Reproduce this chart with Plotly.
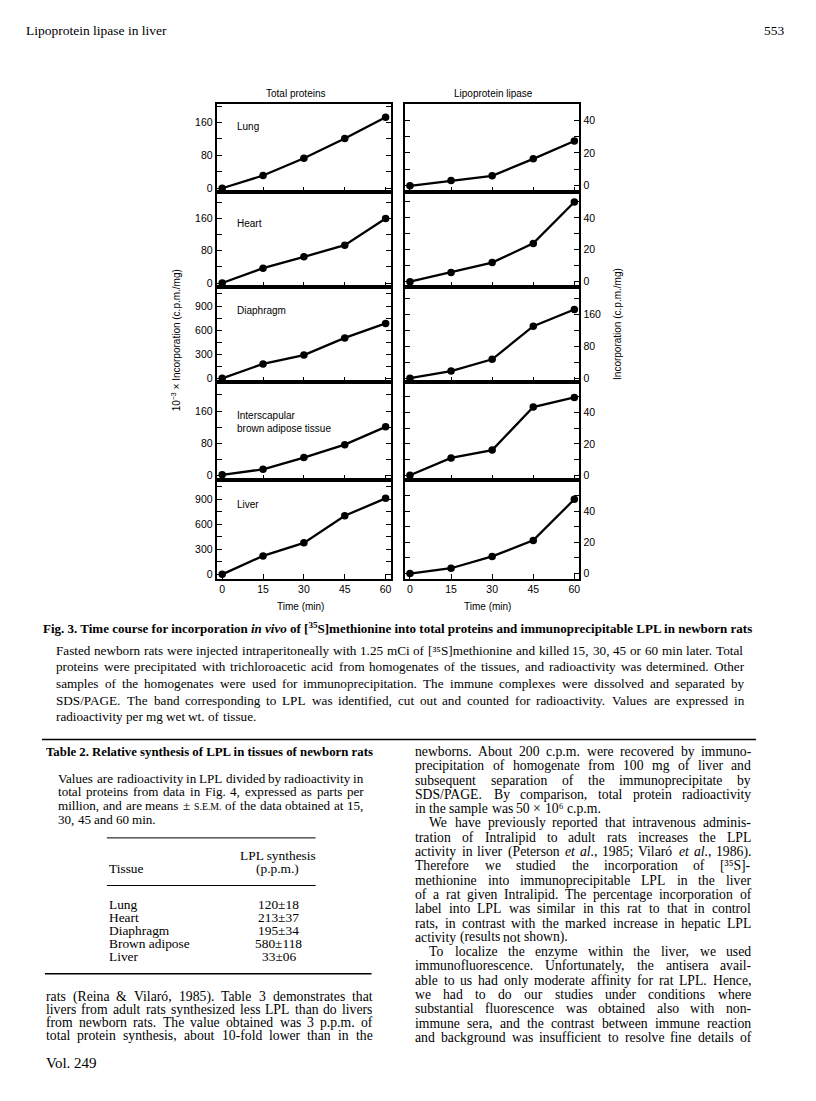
import re
import plotly.graph_objects as go

# ---------------- data ----------------
times = [0, 15, 30, 45, 60]
tissues = ["Lung", "Heart", "Diaphragm", "Interscapular<br>brown adipose tissue", "Liver"]
total_proteins = {
    "Lung": [0, 31, 73, 121, 173],
    "Heart": [0, 37, 65, 94, 160],
    "Diaphragm": [0, 180, 290, 503, 683],
    "IBAT": [2.5, 16, 45, 77, 121],
    "Liver": [0, 221, 378, 703, 912],
}
lpl = {
    "Lung": [0, 3.2, 6.1, 16.4, 27.3],
    "Heart": [0, 5.8, 12, 24, 50],
    "Diaphragm": [0, 18, 47.5, 131, 173],
    "IBAT": [0, 11, 16, 43.4, 49.5],
    "Liver": [0, 3.4, 11, 21.3, 47.7],
}
keys = ["Lung", "Heart", "Diaphragm", "IBAT", "Liver"]
x_ticks = [0, 15, 30, 45, 60]
tp_ticks_small = [0, 40, 80, 120, 160, 200]
tp_text_small = ["0", " ", "80", " ", "160", " "]
tp_ticks_big = [0, 150, 300, 450, 600, 750, 900, 1050]
tp_text_big = ["0", " ", "300", " ", "600", " ", "900", " "]
lpl_ticks_small = [0, 10, 20, 30, 40, 50]
lpl_text_small = ["0", " ", "20", " ", "40", " "]
lpl_ticks_big = [0, 40, 80, 120, 160, 200]
lpl_text_big = ["0", " ", "80", " ", "160", " "]

table_tissues = ["Lung", "Heart", "Diaphragm", "Brown adipose", "Liver"]
table_values = ["120±18", "213±37", "195±34", "580±118", "33±06"]

# ---------------- layout helpers ----------------
# the html body has an 8 px margin, so the figure is drawn 8 px in from the page corner
OFF = 8
W, H = 816 - 2 * OFF, 1101 - 2 * OFF
def px(x):
    return (x - OFF) / W
def py(y):
    return 1 - (y - OFF) / H

SANS = "Liberation Sans, Arial, sans-serif"
SERIF = "Liberation Serif, Times New Roman, serif"

panel_bounds = [(98.3, 187.7), (187.7, 283.3), (283.3, 378.3), (378.3, 477.3), (477.3, 576.7)]
tp_ranges = [[-10, 206], [-10.5, 225], [-40, 1133], [-10, 233], [-50, 1134]]
lpl_ranges = [[-4, 50], [-3.5, 56], [-8.5, 229], [-2.9, 59.6], [-3.2, 60.2]]
left_dom = [px(217), px(391)]
right_dom = [px(405), px(580)]

fig = go.Figure()
layout = {}
for i, key in enumerate(keys):
    top, bot = panel_bounds[i]
    ydom = [py(bot), py(top)]
    for side in (0, 1):
        n = 2 * i + side + 1
        xa = "x" if n == 1 else f"x{n}"
        ya = "y" if n == 1 else f"y{n}"
        yvals = total_proteins[key] if side == 0 else lpl[key]
        fig.add_trace(go.Scatter(
            x=times, y=yvals, xaxis=xa, yaxis=ya, mode="lines+markers",
            line=dict(color="black", width=2.3),
            marker=dict(color="black", size=7.5),
            cliponaxis=False, showlegend=False, hoverinfo="skip"))
        last = i == len(keys) - 1
        layout["xaxis" if n == 1 else f"xaxis{n}"] = dict(
            domain=left_dom if side == 0 else right_dom,
            anchor=ya, range=[-2, 61.8], tickvals=x_ticks,
            showticklabels=last, ticks="inside", ticklen=5, tickwidth=1.3,
            tickcolor="black", showline=True, linecolor="black", linewidth=2,
            mirror=True, showgrid=False, zeroline=False,
            tickfont=dict(family=SANS, size=10.5, color="black"))
        if side == 0:
            big = key in ("Diaphragm", "Liver")
            tv = tp_ticks_big if big else tp_ticks_small
            tt = tp_text_big if big else tp_text_small
            rng = tp_ranges[i]
        else:
            big = key == "Diaphragm"
            tv = lpl_ticks_big if big else lpl_ticks_small
            tt = lpl_text_big if big else lpl_text_small
            rng = lpl_ranges[i]
        layout["yaxis" if n == 1 else f"yaxis{n}"] = dict(
            domain=ydom, anchor=xa, range=rng, tickvals=tv, ticktext=tt,
            side="left" if side == 0 else "right",
            ticks="inside", ticklen=5, tickwidth=1.3, tickcolor="black",
            showline=True, linecolor="black", linewidth=2, mirror="ticks",
            showgrid=False, zeroline=False,
            tickfont=dict(family=SANS, size=10.5, color="black"))

annotations = []
def ann(text, x, y, size, family=SERIF, xanchor="left", angle=0):
    annotations.append(dict(text=text, x=px(x), y=py(y), xref="paper", yref="paper",
                            xanchor=xanchor, yanchor="middle", showarrow=False,
                            textangle=angle, align="left", borderpad=0,
                            font=dict(family=family, size=size, color="black")))

# Times-Roman advance widths (1/1000 em) for justified paragraphs
TW = {' ': 250, '!': 333, '(': 333, ')': 333, ',': 250, '-': 333, '.': 250, '/': 278,
      ':': 278, ';': 278, '[': 333, ']': 333, '&': 778, '±': 564, '×': 564, "'": 333,
      'A': 722, 'B': 667, 'C': 667, 'D': 722, 'E': 611, 'F': 556, 'G': 722, 'H': 722,
      'I': 333, 'J': 389, 'K': 722, 'L': 611, 'M': 889, 'N': 722, 'O': 722, 'P': 556,
      'Q': 722, 'R': 667, 'S': 556, 'T': 611, 'U': 722, 'V': 722, 'W': 944, 'X': 722,
      'Y': 722, 'Z': 611, 'a': 444, 'b': 500, 'c': 444, 'd': 500, 'e': 444, 'f': 333,
      'g': 500, 'h': 500, 'i': 278, 'j': 278, 'k': 500, 'l': 278, 'm': 778, 'n': 500,
      'o': 500, 'p': 500, 'q': 500, 'r': 333, 's': 389, 't': 278, 'u': 500, 'v': 500,
      'w': 722, 'x': 500, 'y': 500, 'z': 444, 'ó': 500, '³': 300, '⁵': 380, '⁶': 380}
for d in "0123456789":
    TW[d] = 500

def plain_width(s, size):
    inner = re.sub(r"<.*?>", "", s)
    return sum(TW.get(c, 500) for c in inner) / 1000 * size

def word_width(tok, size):
    if tok.startswith("§"):
        return plain_width(tok[1:], size * 0.75)
    return plain_width(tok, size)

def draw_word(tok, x, y, size):
    if tok.startswith("§"):
        ann(tok[1:], x, y + 0.5, size * 0.75)
    else:
        ann(tok, x, y, size)

def para(lines, x0, x1, y0, step, size, indent=14):
    """lines: list of (text, justify, indented)"""
    for k, (text, just, ind) in enumerate(lines):
        y = y0 + k * step
        start = x0 + (indent if ind else 0)
        words = text.split(" ")
        widths = [word_width(w, size) for w in words]
        if just and len(words) > 1:
            gap = (x1 - start - sum(widths)) / (len(words) - 1)
        else:
            gap = 0.25 * size
        x = start
        for w, wd in zip(words, widths):
            draw_word(w, x, y, size)
            x += wd + gap

# figure texts
ann("Total proteins", 296, 88, 10, SANS, "center")
ann("Lipoprotein lipase", 494.6, 88, 10, SANS, "center")
label_y = [121.5, 219, 307, 419, 502]
for t, yy in zip(tissues, label_y):
    ann(t, 236.5, yy, 10, SANS)
ann("Time (min)", 301, 605, 10, SANS, "center")
ann("Time (min)", 488, 605, 10, SANS, "center")
ann("10<sup>−3</sup> × Incorporation (c.p.m./mg)", 176, 337, 10, SANS, "center", -90)
ann("Incorporation (c.p.m./mg)", 618, 320, 10, SANS, "center", -90)

# page texts
ann("Lipoprotein lipase in liver", 25, 25, 13.5)
ann("553", 787, 25, 13.5, SERIF, "right")
ann("<b>Fig. 3. Time course for incorporation <i>in vivo</i> of [<sup>35</sup>S]methionine into total proteins and immunoprecipitable LPL in newborn rats</b>",
    42, 627, 13)
caption = [
    ("Fasted newborn rats were injected intraperitoneally with 1.25 mCi of [³⁵S]methionine and killed 15, 30, 45 or 60 min later. Total", True, False),
    ("proteins were precipitated with trichloroacetic acid from homogenates of the tissues, and radioactivity was determined. Other", True, False),
    ("samples of the homogenates were used for immunoprecipitation. The immune complexes were dissolved and separated by", True, False),
    ("SDS/PAGE. The band corresponding to LPL was identified, cut out and counted for radioactivity. Values are expressed in", True, False),
    ("radioactivity per mg wet wt. of tissue.", False, False),
]
para(caption, 55, 744, 649, 16.8, 13.2)

ann("<b>Table 2. Relative synthesis of LPL in tissues of newborn rats</b>", 45, 751, 12.8)
tpara = [
    ("Values are radioactivity in LPL divided by radioactivity in", True, False),
    ("total proteins from data in Fig. 4, expressed as parts per", True, False),
    ("million, and are means ± §S.E.M. of the data obtained at 15,", True, False),
    ("30, 45 and 60 min.", False, False),
]
para(tpara, 57, 363, 778, 13.7, 13.1)
ann("LPL synthesis", 278, 856, 13.4, SERIF, "center")
ann("(p.p.m.)", 278, 869, 13.4, SERIF, "center")
ann("Tissue", 108, 869, 13.4)
for k, (t, v) in enumerate(zip(table_tissues, table_values)):
    ann(t, 108, 905 + k * 13, 13.4)
    ann(v, 279, 905 + k * 13, 13.4, SERIF, "center")

left_body = [
    ("rats (Reina & Vilaró, 1985). Table 3 demonstrates that", True, False),
    ("livers from adult rats synthesized less LPL than do livers", True, False),
    ("from newborn rats. The value obtained was 3 p.p.m. of", True, False),
    ("total protein synthesis, about 10-fold lower than in the", True, False),
]
para(left_body, 45, 372, 998, 13, 13.7)
ann("Vol. 249", 45, 1065, 15)

right_body = [
    ("newborns. About 200 c.p.m. were recovered by immuno-", True, False),
    ("precipitation of homogenate from 100 mg of liver and", True, False),
    ("subsequent separation of the immunoprecipitate by", True, False),
    ("SDS/PAGE. By comparison, total protein radioactivity", True, False),
    ("in the sample was 50 × 10⁶ c.p.m.", False, False),
    ("We have previously reported that intravenous adminis-", True, True),
    ("tration of Intralipid to adult rats increases the LPL", True, False),
    ("activity in liver (Peterson <i>et</i> <i>al.</i>, 1985; Vilaró <i>et</i> <i>al.</i>, 1986).", True, False),
    ("Therefore we studied the incorporation of [³⁵S]-", True, False),
    ("methionine into immunoprecipitable LPL in the liver", True, False),
    ("of a rat given Intralipid. The percentage incorporation of", True, False),
    ("label into LPL was similar in this rat to that in control", True, False),
    ("rats, in contrast with the marked increase in hepatic LPL", True, False),
    ("activity (results not shown).", False, False),
    ("To localize the enzyme within the liver, we used", True, True),
    ("immunofluorescence. Unfortunately, the antisera avail-", True, False),
    ("able to us had only moderate affinity for rat LPL. Hence,", True, False),
    ("we had to do our studies under conditions where", True, False),
    ("substantial fluorescence was obtained also with non-", True, False),
    ("immune sera, and the contrast between immune reaction", True, False),
    ("and background was insufficient to resolve fine details of", True, False),
]
para(right_body, 414.7, 751, 751, 14.4, 13.7)

shapes = []
def hline(x0, x1, y, w=1.3):
    shapes.append(dict(type="line", xref="paper", yref="paper", x0=px(x0), x1=px(x1),
                       y0=py(y), y1=py(y), line=dict(color="black", width=w)))
hline(42, 757, 739, 1.5)
hline(107, 316, 838, 1)
hline(107, 316, 886, 1)
hline(45, 372, 975, 1.5)

fig.update_layout(**layout)
fig.update_layout(width=W, height=H, margin=dict(l=0, r=0, t=0, b=0),
                  paper_bgcolor="white", plot_bgcolor="white",
                  annotations=annotations, shapes=shapes, showlegend=False)
fig.write_html("out.html")
